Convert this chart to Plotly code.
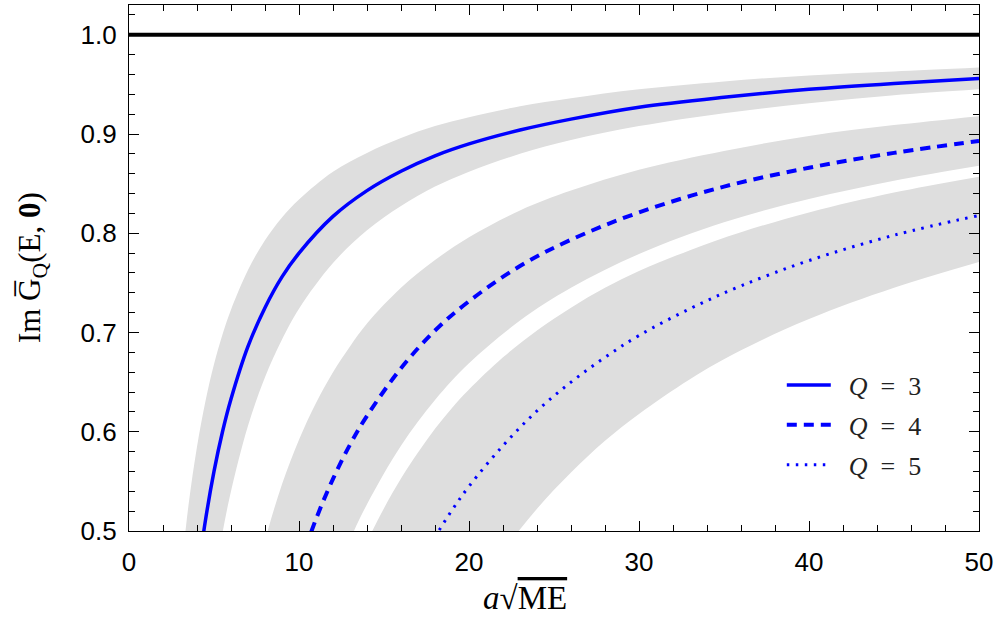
import plotly.graph_objects as go

# ---- data ----
x_q3 = [3, 3.5, 4, 4.5, 5, 5.5, 6, 7, 8, 9, 10, 12, 14, 16, 18, 20, 23, 26, 30, 35, 40, 45, 50]
q3_upper = [0.447, 0.526, 0.585, 0.631, 0.668, 0.698, 0.723, 0.763, 0.793, 0.816, 0.834, 0.862, 0.881,
            0.896, 0.908, 0.917, 0.928, 0.936, 0.945, 0.953, 0.959, 0.963, 0.967]
q3_mid = [0.267, 0.371, 0.450, 0.511, 0.560, 0.600, 0.633, 0.686, 0.725, 0.756, 0.780, 0.817, 0.843,
          0.8625, 0.878, 0.890, 0.904, 0.915, 0.927, 0.937, 0.945, 0.951, 0.956]
q3_lower = [0.080, 0.211, 0.310, 0.387, 0.448, 0.498, 0.540, 0.606, 0.655, 0.693, 0.724, 0.770, 0.803,
            0.8275, 0.847, 0.862, 0.880, 0.894, 0.908, 0.921, 0.931, 0.939, 0.945]

x_q4 = [7, 8, 9, 10, 11, 12, 13, 14, 16, 18, 20, 23, 26, 30, 35, 40, 45, 50]
q4_upper = [0.417, 0.490, 0.547, 0.592, 0.629, 0.660, 0.686, 0.709, 0.745, 0.773, 0.796, 0.823, 0.843,
            0.864, 0.883, 0.898, 0.909, 0.918]
q4_mid = [0.233, 0.329, 0.403, 0.463, 0.512, 0.5525, 0.587, 0.616, 0.664, 0.702, 0.7315, 0.767, 0.7935,
          0.821, 0.847, 0.866, 0.881, 0.893]
q4_lower = [0.054, 0.1725, 0.264, 0.338, 0.398, 0.448, 0.491, 0.527, 0.586, 0.632, 0.669, 0.712, 0.745,
            0.779, 0.811, 0.8345, 0.853, 0.868]

x_q5 = [12, 13, 14, 15, 16, 17, 18, 19, 20, 22, 24, 26, 28, 30, 33, 36, 40, 45, 50]
q5_upper = [0.404, 0.450, 0.489, 0.523, 0.553, 0.579, 0.603, 0.624, 0.6425, 0.675, 0.702, 0.725, 0.745,
            0.762, 0.783, 0.801, 0.821, 0.841, 0.857]
q5_mid = [0.242, 0.300, 0.350, 0.393, 0.431, 0.465, 0.494, 0.521, 0.545, 0.586, 0.621, 0.650, 0.675,
          0.697, 0.724, 0.747, 0.7725, 0.798, 0.818]
q5_lower = [0.045, 0.118, 0.181, 0.236, 0.284, 0.326, 0.363, 0.397, 0.427, 0.479, 0.5225, 0.559, 0.591,
            0.618, 0.653, 0.682, 0.7135, 0.745, 0.771]

x_ref = [0, 50]
y_ref = [1.0, 1.0]

legend_names = ["\u2002<i>Q</i>\u2002=\u20023", "\u2002<i>Q</i>\u2002=\u20024", "\u2002<i>Q</i>\u2002=\u20025"]
x_ticks = [0, 10, 20, 30, 40, 50]
y_ticks = [0.5, 0.6, 0.7, 0.8, 0.9, 1.0]

BAND = "#dedede"
BLUE = "#0000ff"

fig = go.Figure()

# bands
for xs, up, lo in [(x_q3, q3_upper, q3_lower), (x_q4, q4_upper, q4_lower), (x_q5, q5_upper, q5_lower)]:
    fig.add_trace(go.Scatter(x=xs, y=up, mode="lines", line=dict(width=0, color=BAND, shape="spline"),
                             showlegend=False, hoverinfo="skip"))
    fig.add_trace(go.Scatter(x=xs, y=lo, mode="lines", line=dict(width=0, color=BAND, shape="spline"),
                             fill="tonexty", fillcolor=BAND, showlegend=False, hoverinfo="skip"))

# reference line
fig.add_trace(go.Scatter(x=x_ref, y=y_ref, mode="lines", line=dict(width=4, color="black"),
                         showlegend=False))

# central curves
styles = [dict(dash="solid", width=3.5), dict(dash="10px,7px", width=4), dict(dash="2.5px,6.5px", width=3)]
for i, (xs, ys) in enumerate([(x_q3, q3_mid), (x_q4, q4_mid), (x_q5, q5_mid)]):
    fig.add_trace(go.Scatter(x=xs, y=ys, mode="lines", name=legend_names[i], legendgroup=f"g{i}",
                             line=dict(color=BLUE, shape="spline", **styles[i])))

axis_common = dict(
    showline=True, linecolor="black", linewidth=1.3, mirror="allticks",
    ticks="inside", ticklen=10, tickwidth=1, tickcolor="black",
    showgrid=False, zeroline=False,
    tickfont=dict(family="Liberation Sans", size=26, color="black"),
)

fig.update_xaxes(range=[0, 50], tickvals=x_ticks,
                 minor=dict(dtick=2, ticks="inside", ticklen=6, tickwidth=1, tickcolor="black", showgrid=False),
                 ticklabelstandoff=8, **axis_common)
fig.update_yaxes(range=[0.5, 1.03], tickvals=y_ticks, tickformat=".1f",
                 minor=dict(dtick=0.02, tick0=0.5, ticks="inside", ticklen=6, tickwidth=1, tickcolor="black",
                            showgrid=False),
                 ticklabelstandoff=6, **axis_common)

fig.add_annotation(xref="paper", yref="paper", x=0.466, y=-0.127, yanchor="middle", xanchor="center",
                   text="<i>a</i>√<span style='text-decoration:overline'>ME</span>", showarrow=False,
                   font=dict(family="Liberation Serif", size=33, color="black"))
fig.add_annotation(xref="paper", yref="paper", x=-0.114, y=0.5, xanchor="center", yanchor="middle",
                   textangle=-90, text="Im G\u0305<sub>Q</sub>(E, <b>0</b>)", showarrow=False,
                   font=dict(family="Liberation Serif", size=31, color="black"))

fig.update_layout(
    width=999, height=618,
    margin=dict(l=129, r=20, t=5, b=87),
    plot_bgcolor="white", paper_bgcolor="white",
    legend=dict(x=0.768, y=0.322, xanchor="left", yanchor="top", traceorder="grouped",
                tracegroupgap=3, itemwidth=44, bgcolor="rgba(0,0,0,0)",
                font=dict(family="Liberation Serif", size=26, color="#222222")),
)

fig.write_html("out.html")
